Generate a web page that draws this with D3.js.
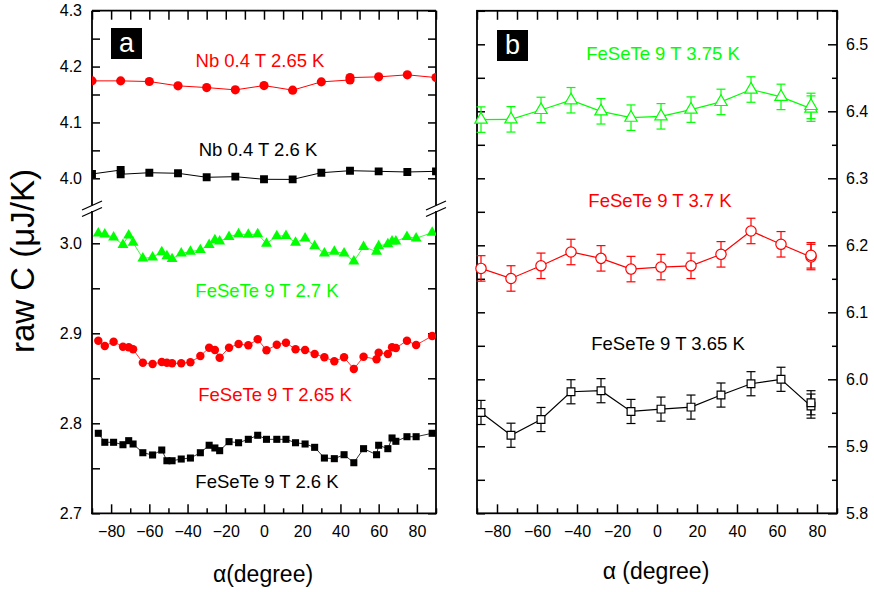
<!DOCTYPE html>
<html>
<head>
<meta charset="utf-8">
<script src="https://cdn.jsdelivr.net/npm/d3@7/dist/d3.min.js"></script>
<style>
  html, body { margin: 0; padding: 0; background: #fff; }
  svg { display: block; font-family: "Liberation Sans", Arial, Helvetica, sans-serif; }
</style>
</head>
<body>
<svg id="chart" width="874" height="592"></svg>
<script>
// ---------- data: panel a (raw heat capacity vs field angle) ----------
const nbRedAngles   = [-90, -75, -60, -45, -30, -15, 0, 15, 30, 45, 45, 60, 75, 90];
const nbRedValues   = [4.1744, 4.1744, 4.1732, 4.1655, 4.1624, 4.1583, 4.1660, 4.1578, 4.1726, 4.1760, 4.1803, 4.1816, 4.1852, 4.1803];
const nbBlackAngles = [-90, -75, -75, -60, -45, -30, -15, 0, 15, 30, 45, 60, 75, 90];
const nbBlackValues = [4.0077, 4.0148, 4.0072, 4.0100, 4.0090, 4.0018, 4.0029, 3.9982, 3.9980, 4.0100, 4.0136, 4.0125, 4.0113, 4.0125];

const fineAngles = [-86.7, -83.3, -78.7, -73.8, -70.8, -68.5, -63.4, -58.3, -53.5, -50.8,
                    -48.1, -43.3, -38.5, -33.3, -28.7, -25.7, -23.2, -18.3, -13.3, -8.2,
                    -3.3, 1.3, 6.7, 11.5, 16.5, 21.5, 26.5, 31.6, 36.8, 41.9,
                    47.0, 52.1, 58.9, 60.0, 64.8, 67.0, 69.0, 74.8, 79.6, 88.0];
const fes27Values  = [3.0111, 3.0100, 3.0067, 2.9984, 3.0089, 3.0007, 2.9833, 2.9844, 2.9903, 2.9859,
                      2.9826, 2.9889, 2.9907, 2.9926, 2.9984, 3.0037, 3.0022, 3.0073, 3.0103, 3.0096,
                      3.0103, 2.9996, 3.0081, 3.0084, 3.0007, 3.0056, 2.9970, 2.9889, 2.9907, 2.9889,
                      2.9800, 2.9962, 2.9907, 2.9970, 2.9992, 3.0022, 3.0022, 3.0073, 3.0056, 3.0118];
const fes265Values = [2.8918, 2.8859, 2.8907, 2.8851, 2.8844, 2.8822, 2.8673, 2.8659, 2.8681, 2.8673,
                      2.8667, 2.8667, 2.8678, 2.8748, 2.8840, 2.8814, 2.8729, 2.8840, 2.8881, 2.8867,
                      2.8933, 2.8811, 2.8873, 2.8896, 2.8822, 2.8814, 2.8770, 2.8733, 2.8689, 2.8733,
                      2.8603, 2.8740, 2.8711, 2.8784, 2.8770, 2.8844, 2.8837, 2.8918, 2.8870, 2.8970];
const fes26Values  = [2.7889, 2.7789, 2.7789, 2.7762, 2.7807, 2.7770, 2.7673, 2.7648, 2.7703, 2.7584,
                      2.7584, 2.7603, 2.7614, 2.7673, 2.7756, 2.7726, 2.7696, 2.7796, 2.7784, 2.7822,
                      2.7867, 2.7822, 2.7822, 2.7822, 2.7784, 2.7770, 2.7733, 2.7614, 2.7607, 2.7651,
                      2.7562, 2.7718, 2.7651, 2.7756, 2.7718, 2.7837, 2.7800, 2.7851, 2.7851, 2.7889];

// ---------- data: panel b (higher temperatures, with error bars) ----------
const bAngles       = [-88, -73, -58, -43, -28, -13, 2, 17, 32, 47, 62, 77, 77];
const fes375Values  = [6.3876, 6.3880, 6.4020, 6.4165, 6.4000, 6.3905, 6.3925, 6.4025, 6.4140, 6.4325, 6.4215, 6.4040, 6.4080];
const fes375Errors  = [0.019, 0.019, 0.019, 0.019, 0.019, 0.019, 0.019, 0.019, 0.019, 0.019, 0.019, 0.019, 0.019];
const fes37Values   = [6.1655, 6.1505, 6.1694, 6.1900, 6.1805, 6.1645, 6.1675, 6.1694, 6.1865, 6.2214, 6.2015, 6.1825, 6.1850];
const fes37Errors   = [0.019, 0.019, 0.019, 0.019, 0.019, 0.019, 0.019, 0.019, 0.019, 0.019, 0.019, 0.019, 0.019];
const fes365Values  = [5.9505, 5.9165, 5.9400, 5.9814, 5.9830, 5.9520, 5.9555, 5.9585, 5.9765, 5.9934, 6.0000, 5.9600, 5.9650];
const fes365Errors  = [0.018, 0.018, 0.018, 0.018, 0.018, 0.018, 0.018, 0.018, 0.018, 0.018, 0.018, 0.018, 0.018];

// ---------- tick values ----------
const xMajorTicks = [-80, -60, -40, -20, 0, 20, 40, 60, 80];
const xMinorTicks = [-90, -70, -50, -30, -10, 10, 30, 50, 70, 90];
const aUpperTicks = [4.0, 4.1, 4.2, 4.3];
const aUpperMinor = [4.05, 4.15, 4.25];
const aLowerTicks = [2.7, 2.8, 2.9, 3.0];
const aLowerMinor = [2.75, 2.85, 2.95];
const bTicks      = [5.8, 5.9, 6.0, 6.1, 6.2, 6.3, 6.4, 6.5];
const bMinor      = [5.85, 5.95, 6.05, 6.15, 6.25, 6.35, 6.45, 6.55];

const RED = "#ff0000", GREEN = "#00ff00", BLACK = "#000000";

const svg = d3.select("#chart");
svg.append("rect").attr("width", 874).attr("height", 592).attr("fill", "#fff");

const fmt = d3.format(".1f");
const TICK_FONT = 16;

// ---------- panel a geometry ----------
const aLeft = 92, aRight = 436, aTop = 10.7, aBottom = 513.3;
const breakUpper = 205.5, breakLower = 211;
const xa = d3.scaleLinear().domain([-90, 90]).range([aLeft, aRight]);
const yUp = d3.scaleLinear().domain([4.0, 4.3]).range([178.3, aTop]);
const yLo = d3.scaleLinear().domain([2.7, 3.0]).range([aBottom, 243.3]);

// ---------- panel b geometry ----------
const bLeft = 477, bRight = 837, bTop = 10.8, bBottom = 513.3;
const xb = d3.scaleLinear().domain([-90, 90]).range([bLeft, bRight]);
const yb = d3.scaleLinear().domain([5.8, 6.55]).range([bBottom, bTop]);

function styleAxis(g) {
  g.select(".domain").remove();
  g.selectAll(".tick line").attr("stroke", "#000").attr("stroke-width", 1.5);
  g.selectAll(".tick text").attr("fill", "#000").attr("font-size", TICK_FONT)
    .attr("font-family", "Liberation Sans, Arial, sans-serif");
}

function xAxes(x, top, bottom) {
  svg.append("g").attr("transform", `translate(0,${bottom})`)
    .call(d3.axisBottom(x).tickValues(xMajorTicks).tickSize(-9).tickPadding(12).tickFormat(d3.format("d")))
    .call(styleAxis);
  svg.append("g").attr("transform", `translate(0,${bottom})`)
    .call(d3.axisBottom(x).tickValues(xMinorTicks).tickSize(-5).tickFormat(""))
    .call(styleAxis);
  svg.append("g").attr("transform", `translate(0,${top})`)
    .call(d3.axisTop(x).tickValues(xMajorTicks).tickSize(-9).tickFormat(""))
    .call(styleAxis);
  svg.append("g").attr("transform", `translate(0,${top})`)
    .call(d3.axisTop(x).tickValues(xMinorTicks).tickSize(-9).tickFormat(""))
    .call(styleAxis);
}

// ---------- panel a axes ----------
xAxes(xa, aTop, aBottom);
[[yUp, aUpperTicks, aUpperMinor], [yLo, aLowerTicks, aLowerMinor]].forEach(([ys, major, minor]) => {
  svg.append("g").attr("transform", `translate(${aLeft},0)`)
    .call(d3.axisLeft(ys).tickValues(major).tickSize(-8).tickPadding(10).tickFormat(fmt))
    .call(styleAxis);
  svg.append("g").attr("transform", `translate(${aLeft},0)`)
    .call(d3.axisLeft(ys).tickValues(minor).tickSize(-8).tickFormat(""))
    .call(styleAxis);
  svg.append("g").attr("transform", `translate(${aRight},0)`)
    .call(d3.axisRight(ys).tickValues(major.concat(minor)).tickSize(-8).tickFormat(""))
    .call(styleAxis);
});

// panel a frame with the broken vertical axes
const frameA = svg.append("g").attr("stroke", "#000").attr("stroke-width", 1.8).attr("fill", "none");
frameA.append("line").attr("x1", aLeft).attr("x2", aRight).attr("y1", aTop).attr("y2", aTop);
frameA.append("line").attr("x1", aLeft - 1).attr("x2", aRight + 1).attr("y1", aBottom).attr("y2", aBottom);
[aLeft, aRight].forEach(xx => {
  frameA.append("line").attr("x1", xx).attr("x2", xx).attr("y1", aTop).attr("y2", breakUpper);
  frameA.append("line").attr("x1", xx).attr("x2", xx).attr("y1", breakLower).attr("y2", aBottom);
  [breakUpper, breakLower + 1].forEach(yy => {
    frameA.append("line").attr("stroke-width", 1.3)
      .attr("x1", xx - 10).attr("y1", yy + 4.5).attr("x2", xx + 10).attr("y2", yy - 4.5);
  });
});

// ---------- panel b axes ----------
xAxes(xb, bTop, bBottom);
svg.append("g").attr("transform", `translate(${bRight},0)`)
  .call(d3.axisRight(yb).tickValues(bTicks).tickSize(-9).tickPadding(9).tickFormat(fmt))
  .call(styleAxis);
svg.append("g").attr("transform", `translate(${bRight},0)`)
  .call(d3.axisRight(yb).tickValues(bMinor).tickSize(-5).tickFormat(""))
  .call(styleAxis);
svg.append("g").attr("transform", `translate(${bLeft},0)`)
  .call(d3.axisLeft(yb).tickValues(bTicks.concat(bMinor)).tickSize(-8).tickFormat(""))
  .call(styleAxis);
svg.append("rect").attr("x", bLeft).attr("y", bTop).attr("width", bRight - bLeft).attr("height", bBottom - bTop)
  .attr("fill", "none").attr("stroke", "#000").attr("stroke-width", 1.8);

// ---------- panel a data ----------
svg.append("clipPath").attr("id", "clipA").append("rect")
  .attr("x", aLeft).attr("y", aTop).attr("width", aRight - aLeft).attr("height", aBottom - aTop);
const gA = svg.append("g").attr("clip-path", "url(#clipA)");

function series(g, angles, values, x, y, color, shape, size, lineW) {
  const pts = angles.map((a, i) => [x(a), y(values[i])]);
  g.append("path").attr("d", d3.line()(pts)).attr("fill", "none")
    .attr("stroke", color).attr("stroke-width", lineW);
  g.selectAll(null).data(pts).enter().append("path")
    .attr("transform", d => `translate(${d[0]},${d[1]})`)
    .attr("d", d3.symbol().type(shape).size(size))
    .attr("fill", color);
}

series(gA, nbRedAngles, nbRedValues, xa, yUp, RED, d3.symbolCircle, 66, 1);
series(gA, nbBlackAngles, nbBlackValues, xa, yUp, BLACK, d3.symbolSquare, 62, 1);
series(gA, fineAngles, fes27Values, xa, yLo, GREEN, d3.symbolTriangle, 52, 0.8);
series(gA, fineAngles, fes265Values, xa, yLo, RED, d3.symbolCircle, 56, 0.8);
series(gA, fineAngles, fes26Values, xa, yLo, BLACK, d3.symbolSquare, 50, 0.8);

// ---------- panel b data (open markers with error bars) ----------
function seriesErr(angles, values, errors, color, shape, size) {
  const g = svg.append("g");
  const pts = angles.map((a, i) => ({ x: xb(a), y: yb(values[i]), lo: yb(values[i] - errors[i]), hi: yb(values[i] + errors[i]) }));
  const eb = g.append("g").attr("stroke", color).attr("stroke-width", 1.2);
  pts.forEach(p => {
    eb.append("line").attr("x1", p.x).attr("x2", p.x).attr("y1", p.lo).attr("y2", p.hi);
    eb.append("line").attr("x1", p.x - 4.5).attr("x2", p.x + 4.5).attr("y1", p.lo).attr("y2", p.lo);
    eb.append("line").attr("x1", p.x - 4.5).attr("x2", p.x + 4.5).attr("y1", p.hi).attr("y2", p.hi);
  });
  g.append("path").attr("d", d3.line().x(d => d.x).y(d => d.y)(pts)).attr("fill", "none")
    .attr("stroke", color).attr("stroke-width", 1.2);
  g.selectAll(null).data(pts).enter().append("path")
    .attr("transform", d => `translate(${d.x},${d.y})`)
    .attr("d", d3.symbol().type(shape).size(size))
    .attr("fill", "#fff").attr("stroke", color).attr("stroke-width", 1.2);
}
seriesErr(bAngles, fes375Values, fes375Errors, GREEN, d3.symbolTriangle, 66);
seriesErr(bAngles, fes37Values, fes37Errors, RED, d3.symbolCircle, 84);
seriesErr(bAngles, fes365Values, fes365Errors, BLACK, d3.symbolSquare, 60);

// ---------- labels ----------
const labels = [
  { t: "Nb 0.4 T 2.65 K", x: 260, y: 67, c: RED },
  { t: "Nb 0.4 T 2.6 K", x: 258, y: 156, c: BLACK },
  { t: "FeSeTe 9 T 2.7 K", x: 267, y: 297, c: GREEN },
  { t: "FeSeTe 9 T 2.65 K", x: 275, y: 401, c: RED },
  { t: "FeSeTe 9 T 2.6 K", x: 267, y: 488, c: BLACK },
  { t: "FeSeTe 9 T 3.75 K", x: 663, y: 60, c: GREEN },
  { t: "FeSeTe 9 T 3.7 K", x: 660, y: 207, c: RED },
  { t: "FeSeTe 9 T 3.65 K", x: 668, y: 350, c: BLACK }
];
svg.selectAll(null).data(labels).enter().append("text")
  .attr("x", d => d.x).attr("y", d => d.y).attr("text-anchor", "middle")
  .attr("font-size", 18.5).attr("fill", d => d.c).text(d => d.t);

// panel tags
[{ t: "a", x: 111, y: 28 }, { t: "b", x: 497, y: 30 }].forEach(d => {
  svg.append("rect").attr("x", d.x).attr("y", d.y).attr("width", 31).attr("height", 31).attr("fill", "#000");
  svg.append("text").attr("x", d.x + 15.5).attr("y", d.y + 24).attr("text-anchor", "middle")
    .attr("font-size", 27).attr("fill", "#fff").text(d.t);
});

// axis titles
svg.append("text").attr("transform", "translate(34,261) rotate(-90)").attr("text-anchor", "middle")
  .attr("font-size", 33).attr("fill", "#000").text("raw C (μJ/K)");
svg.append("text").attr("x", 263).attr("y", 582).attr("text-anchor", "middle")
  .attr("font-size", 23).attr("fill", "#000").text("α(degree)");
svg.append("text").attr("x", 656).attr("y", 579).attr("text-anchor", "middle")
  .attr("font-size", 23).attr("fill", "#000").text("α (degree)");
</script>
</body>
</html>
